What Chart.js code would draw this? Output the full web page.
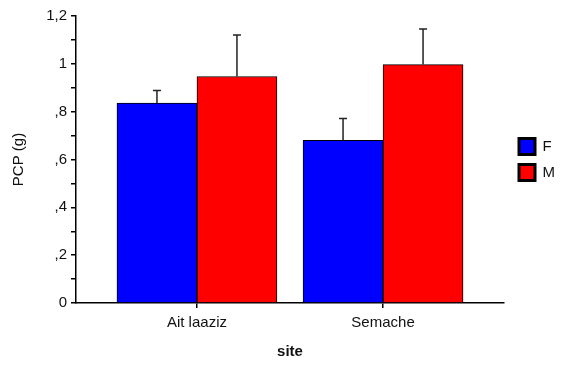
<!DOCTYPE html>
<html>
<head>
<meta charset="utf-8">
<script src="https://cdn.jsdelivr.net/npm/chart.js@4.4.1/dist/chart.umd.min.js"></script>
<style>
  body { margin: 0; background: #fff; }
</style>
</head>
<body>
<canvas id="Chart1" width="563" height="365"></canvas>
<script>
const categories = ['Ait laaziz', 'Semache'];
const fValues = [0.836, 0.680];
const fErrors = [0.053, 0.091];
const mValues = [0.947, 0.997];
const mErrors = [0.174, 0.149];
const yTickLabels = ['0', ',2', ',4', ',6', ',8', '1', '1,2'];

const FONT = 'Arial, "Liberation Sans", sans-serif';

// error bars drawn on top of each bar, using the y scale
const errorBars = {
    id: 'errorBars',
    afterDatasetsDraw(chart) {
        const c = chart.ctx;
        const y = chart.scales.y;
        chart.data.datasets.forEach((ds, i) => {
            const meta = chart.getDatasetMeta(i);
            meta.data.forEach((bar, j) => {
                const top = y.getPixelForValue(ds.data[j].y + ds.errors[j]);
                c.save();
                c.strokeStyle = '#222';
                c.lineWidth = 1.5;
                c.beginPath();
                c.moveTo(bar.x, bar.y);
                c.lineTo(bar.x, top);
                c.moveTo(bar.x - 4, top);
                c.lineTo(bar.x + 4, top);
                c.stroke();
                c.restore();
            });
        });
    }
};

// move the legend up beside the plot, a bit away from it
const legendNudge = {
    id: 'legendNudge',
    afterLayout(chart) {
        const lg = chart.legend;
        lg.left += 5;
        lg.right += 5;
        lg.top -= 31;
        lg.bottom -= 31;
    }
};

const ctx1 = document.getElementById('Chart1').getContext('2d');

new Chart(ctx1, {
    type: 'bar',
    data: {
        datasets: [{
            label: 'F',
            data: fValues.map((v, i) => ({ x: i + 1, y: v })),
            errors: fErrors,
            backgroundColor: '#0000ff',
            borderColor: '#000',
            borderWidth: 1,
            barThickness: 80
        }, {
            label: 'M',
            data: mValues.map((v, i) => ({ x: i + 1, y: v })),
            errors: mErrors,
            backgroundColor: '#ff0000',
            borderColor: '#000',
            borderWidth: 1,
            barThickness: 80
        }]
    },
    options: {
        responsive: false,
        animation: false,
        layout: { padding: { top: 16, right: 3, left: 0, bottom: 0 } },
        plugins: {
            tooltip: { enabled: false },
            legend: {
                position: 'right',
                labels: {
                    boxWidth: 16,
                    boxHeight: 16,
                    padding: 10,
                    color: '#111',
                    font: { family: FONT, size: 15 },
                    generateLabels(chart) {
                        return chart.data.datasets.map((ds, i) => ({
                            text: ds.label,
                            fillStyle: ds.backgroundColor,
                            strokeStyle: '#000',
                            lineWidth: 3,
                            fontColor: '#111',
                            datasetIndex: i
                        }));
                    }
                }
            }
        },
        scales: {
            x: {
                type: 'linear',
                min: 0.35,
                max: 2.65,
                offset: false,
                afterBuildTicks(scale) {
                    scale.ticks = categories.map((c, i) => ({ value: i + 1 }));
                },
                afterFit(scale) {
                    scale.height = 62;
                },
                border: { display: true, color: '#000', width: 1.5 },
                grid: { offset: false, drawOnChartArea: false, tickLength: 5, color: '#000', lineWidth: 1.5 },
                ticks: {
                    color: '#111',
                    font: { family: FONT, size: 15 },
                    padding: 6,
                    callback: (v) => categories[Math.round(v) - 1]
                },
                title: {
                    display: true,
                    text: 'site',
                    color: '#111',
                    font: { family: FONT, size: 15, weight: 'bold' },
                    padding: { top: 11 }
                }
            },
            y: {
                min: 0,
                max: 1.2,
                afterFit(scale) {
                    scale.width = 76;
                },
                border: { display: true, color: '#000', width: 1.5 },
                grid: { drawOnChartArea: false, tickLength: 5, color: '#000', lineWidth: 1.5 },
                ticks: {
                    stepSize: 0.1,
                    color: '#111',
                    padding: 4,
                    font: { family: FONT, size: 15 },
                    callback: (v) => {
                        const k = Math.round(v * 10);
                        return k % 2 ? '' : yTickLabels[k / 2];
                    }
                },
                title: {
                    display: true,
                    text: 'PCP (g)',
                    color: '#111',
                    font: { family: FONT, size: 15 },
                    padding: { top: 10, bottom: 4 }
                }
            }
        }
    },
    plugins: [errorBars, legendNudge]
});
</script>
</body>
</html>
